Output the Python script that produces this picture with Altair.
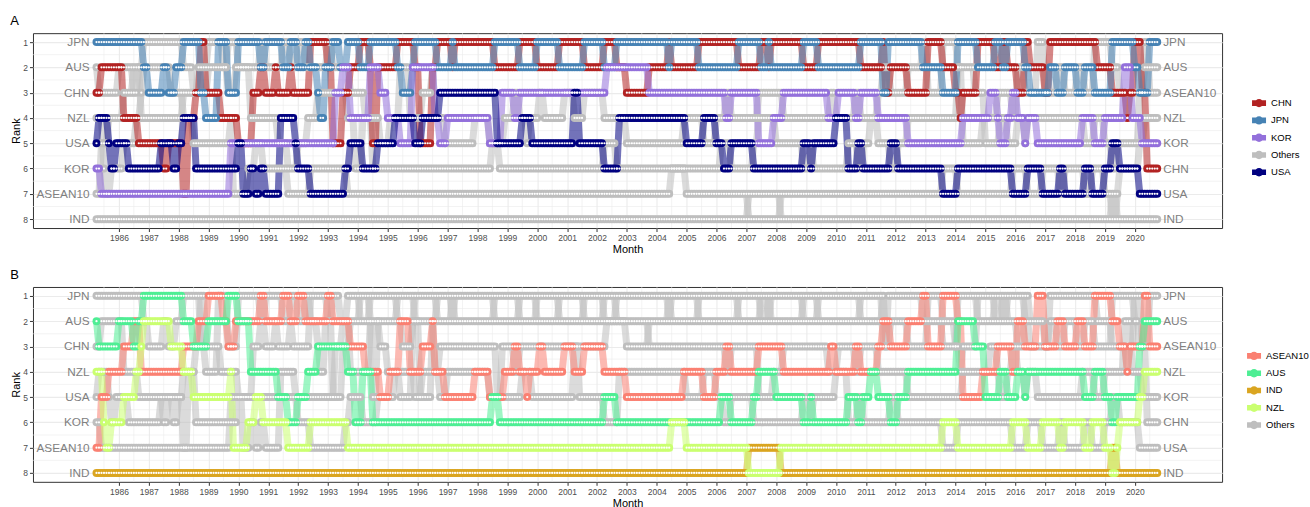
import altair as alt
import pandas as pd

# ---------------- data (change points: (decimal year, rank)) ----------------
START_YEAR, START_MONTH = 1985, 4
END_YEAR, END_MONTH = 2020, 10

JPN = [(1985.25, 1), (1986.8, 2), (1987.0, 3), (1987.5, 2), (1987.65, 3), (1987.85, 2), (1988.15, 1),
       (1988.75, 3), (1988.85, 4), (1989.3, 1), (1989.6, 3), (1989.95, 1), (1990.7, 2), (1990.9, 1),
       (1991.5, 2), (1991.75, 1), (1991.95, 2), (1992.2, 1), (1992.4, 2), (1992.6, 3), (1992.7, 4),
       (1992.9, 2), (1993.15, 1), (1993.4, 2), (1993.6, 1), (1994.05, 2), (1994.35, 1), (1995.33, 2),
       (1995.42, 3), (1995.8, 2), (1995.9, 1), (1996.6, 2), (1997.15, 1), (1997.25, 2), (1998.55, 1),
       (1999.35, 2), (2000.0, 1), (2000.7, 2), (2001.55, 1), (2002.2, 2), (2002.65, 1), (2004.35, 2),
       (2004.45, 1), (2005.35, 2), (2006.7, 1), (2007.5, 2), (2007.75, 1), (2007.8, 2), (2008.9, 1),
       (2009.4, 2), (2010.8, 1), (2011.55, 3), (2011.7, 1), (2012.85, 2), (2013.55, 3), (2014.05, 1),
       (2014.67, 2), (2015.3, 1), (2015.57, 2), (2015.73, 1), (2016.29, 2), (2016.46, 3), (2017.13, 2),
       (2017.4, 3), (2017.6, 2), (2018.08, 3), (2018.3, 2), (2018.63, 3), (2019.2, 1), (2019.98, 2),
       (2020.15, 3), (2020.45, 1)]

CHN = [(1985.25, 3), (1985.35, 2), (1986.15, 4), (1986.65, 5), (1987.45, 6), (1987.6, 5), (1988.1, 7),
       (1988.3, 4), (1988.55, 3), (1988.75, 1), (1988.9, 3), (1989.35, 4), (1990.0, 5), (1990.45, 3),
       (1990.75, 2), (1990.85, 3), (1991.2, 2), (1991.3, 3), (1991.7, 2), (1991.8, 3), (1992.4, 1),
       (1992.95, 2), (1993.15, 5), (1993.5, 3), (1993.75, 2), (1994.05, 1), (1994.35, 2), (1994.45, 5),
       (1994.6, 2), (1995.33, 1), (1995.9, 2), (1996.05, 5), (1996.5, 2), (1996.6, 1), (1997.15, 2),
       (1997.25, 1), (1998.55, 2), (1999.35, 1), (2000.0, 2), (2000.7, 1), (2001.55, 2), (2002.2, 1),
       (2002.65, 2), (2002.95, 3), (2003.7, 2), (2004.35, 1), (2004.45, 2), (2005.35, 1), (2006.7, 2),
       (2007.5, 1), (2007.75, 2), (2007.8, 1), (2008.9, 2), (2009.4, 1), (2010.8, 2), (2011.55, 1),
       (2011.65, 3), (2011.8, 2), (2012.4, 3), (2013.05, 1), (2013.55, 2), (2014.0, 3), (2014.1, 4),
       (2014.25, 3), (2014.67, 1), (2015.3, 2), (2015.57, 1), (2015.73, 2), (2016.05, 3), (2016.29, 1),
       (2016.46, 2), (2016.96, 3), (2017.13, 1), (2018.69, 2), (2019.2, 3), (2019.7, 4), (2019.8, 3),
       (2019.98, 1), (2020.2, 3), (2020.35, 6)]

KOR = [(1985.25, 6), (1985.4, 7), (1989.7, 5), (1993.2, 3), (1993.45, 2), (1993.7, 4), (1994.35, 2),
       (1994.75, 3), (1995.0, 4), (1995.4, 5), (1995.8, 2), (1996.55, 4), (1996.7, 5), (1997.0, 4),
       (1998.4, 5), (1998.8, 3), (1999.25, 4), (1999.4, 3), (2002.3, 2), (2003.7, 3), (2006.3, 4),
       (2006.45, 3), (2007.4, 5), (2007.9, 4), (2008.25, 3), (2009.75, 4), (2010.05, 3), (2010.6, 4),
       (2010.8, 3), (2011.35, 4), (2012.4, 5), (2014.2, 4), (2015.1, 3), (2015.4, 4), (2015.5, 5),
       (2015.73, 4), (2015.85, 3), (2016.05, 4), (2016.3, 5), (2016.4, 4), (2016.75, 5), (2018.2, 4),
       (2018.6, 5), (2019.0, 4), (2019.65, 2), (2019.85, 4), (2020.2, 5)]

USA = [(1985.25, 5), (1985.3, 4), (1985.6, 5), (1985.75, 6), (1985.9, 5), (1986.3, 6), (1987.35, 5),
       (1987.8, 6), (1987.95, 5), (1988.15, 4), (1988.55, 6), (1990.0, 5), (1990.1, 7), (1990.4, 6),
       (1990.55, 7), (1990.75, 6), (1990.85, 7), (1991.35, 4), (1991.85, 5), (1992.0, 6), (1992.4, 7),
       (1993.55, 6), (1993.75, 5), (1994.1, 6), (1994.6, 5), (1995.25, 4), (1995.9, 5), (1996.1, 4),
       (1996.7, 3), (1998.6, 5), (1999.45, 4), (1999.8, 5), (2001.2, 3), (2001.35, 5), (2002.2, 6),
       (2002.75, 4), (2005.0, 5), (2005.55, 4), (2006.0, 5), (2006.2, 6), (2006.45, 5), (2007.2, 6),
       (2008.9, 5), (2009.1, 6), (2009.25, 5), (2010.0, 4), (2010.35, 6), (2010.75, 5), (2010.9, 6),
       (2011.8, 5), (2012.05, 6), (2013.55, 7), (2014.05, 6), (2015.85, 7), (2016.4, 6), (2016.85, 7),
       (2017.45, 6), (2017.6, 7), (2018.3, 6), (2018.55, 7), (2019.0, 6), (2019.2, 5), (2019.5, 6),
       (2020.1, 7)]

AUS = [(1985.25, 2), (1985.3, 3), (1986.0, 2), (1986.5, 3), (1986.65, 2), (1986.8, 1), (1988.15, 2),
       (1988.5, 3), (1989.0, 2), (1989.6, 1), (1989.95, 2), (1990.4, 4), (1991.3, 5), (1991.6, 6),
       (1991.95, 5), (1992.3, 4), (1992.6, 3), (1993.6, 4), (1993.9, 6), (1994.1, 4), (1994.45, 6),
       (1998.45, 5), (1998.7, 6), (2002.2, 5), (2002.6, 6), (2006.15, 5), (2006.45, 6), (2007.2, 5),
       (2007.35, 4), (2008.0, 5), (2008.9, 6), (2009.1, 5), (2009.25, 6), (2010.35, 5), (2010.75, 6),
       (2010.9, 5), (2011.1, 4), (2011.35, 5), (2011.8, 6), (2012.05, 5), (2012.4, 4), (2014.06, 2),
       (2014.6, 3), (2015.0, 5), (2015.5, 4), (2015.73, 5), (2016.07, 4), (2016.3, 5), (2016.4, 4),
       (2018.3, 5), (2018.6, 4), (2019.0, 5), (2019.25, 6), (2019.4, 5), (2020.1, 3), (2020.3, 2)]

NZL = [(1985.25, 4), (1985.45, 6), (1985.55, 7), (1985.7, 6), (1986.15, 5), (1986.55, 4), (1986.7, 3),
       (1986.8, 2), (1987.7, 3), (1988.1, 4), (1988.5, 5), (1989.7, 4), (1989.8, 7), (1990.3, 6),
       (1990.55, 5), (1990.8, 6), (1991.6, 7), (1992.4, 6), (1993.6, 7), (2004.5, 6), (2005.0, 7),
       (2007.05, 8), (2008.1, 7), (2013.55, 6), (2014.05, 7), (2015.85, 6), (2016.4, 7), (2016.85, 6),
       (2017.45, 7), (2017.6, 6), (2018.3, 7), (2018.55, 6), (2019.0, 7), (2019.25, 8), (2019.4, 7),
       (2019.5, 6), (2020.1, 5), (2020.3, 4)]

ASEAN10 = [(1985.25, 7), (1985.4, 5), (1985.6, 4), (1986.15, 3), (1986.5, 2), (1986.7, 4), (1988.1, 3),
           (1988.6, 2), (1988.95, 1), (1989.5, 2), (1989.65, 3), (1989.9, 2), (1990.7, 1), (1990.9, 2),
           (1991.5, 1), (1991.75, 2), (1991.95, 1), (1992.2, 2), (1992.95, 1), (1993.15, 2), (1993.75, 3),
           (1994.2, 4), (1994.7, 5), (1995.05, 4), (1995.4, 2), (1995.75, 4), (1996.1, 3), (1996.5, 2),
           (1996.55, 4), (1996.9, 5), (1997.85, 4), (1998.4, 5), (1998.85, 4), (1999.25, 3), (1999.4, 4),
           (1999.6, 5), (1999.7, 4), (2000.05, 3), (2000.2, 4), (2000.85, 3), (2001.2, 4), (2001.55, 3),
           (2002.2, 4), (2002.95, 5), (2004.9, 4), (2005.55, 5), (2006.0, 4), (2006.3, 3), (2006.45, 4),
           (2007.4, 3), (2008.25, 4), (2009.8, 3), (2010.0, 4), (2010.6, 3), (2010.8, 4), (2011.35, 3),
           (2011.55, 2), (2011.8, 3), (2012.4, 2), (2012.85, 1), (2013.05, 3), (2013.55, 1), (2014.06, 2),
           (2014.2, 5), (2014.85, 4), (2015.4, 3), (2015.85, 4), (2016.07, 2), (2016.3, 3), (2016.7, 1),
           (2017.0, 3), (2017.4, 2), (2017.6, 3), (2018.08, 2), (2018.3, 3), (2018.63, 1), (2019.2, 2),
           (2019.45, 3), (2019.7, 4), (2019.8, 3), (2020.3, 1), (2020.45, 3)]

IND = [(1985.25, 8), (2007.05, 7), (2008.1, 8), (2019.25, 7), (2019.4, 8)]

SERIES = {"JPN": JPN, "AUS": AUS, "CHN": CHN, "NZL": NZL, "USA": USA,
          "KOR": KOR, "ASEAN10": ASEAN10, "IND": IND}

HIGHLIGHT_A = ["CHN", "JPN", "KOR", "USA"]
HIGHLIGHT_B = ["ASEAN10", "AUS", "IND", "NZL"]
DOMAIN_A = ["CHN", "JPN", "KOR", "Others", "USA"]
RANGE_A = ["#B22222", "#4682B4", "#9370DB", "#BEBEBE", "#000080"]
DOMAIN_B = ["ASEAN10", "AUS", "IND", "NZL", "Others"]
RANGE_B = ["#FA8072", "#4EEE94", "#DAA520", "#CAFF70", "#BEBEBE"]

YEARS = list(range(1986, 2021))
RANKS = list(range(1, 9))

# ---------------- build monthly table (run-length decoding) ----------------
months = []
y, m = START_YEAR, START_MONTH
while (y, m) <= (END_YEAR, END_MONTH):
    months.append(round(y + (m - 1) / 12.0, 5))
    m += 1
    if m > 12:
        m, y = 1, y + 1


def rank_at(changes, t):
    r = changes[0][1]
    for s, v in changes:
        if s <= t + 1e-6:
            r = v
        else:
            break
    return r


rows = []
for c, ch in SERIES.items():
    for t in months:
        rows.append({"country": c, "t": t, "rank": rank_at(ch, t),
                     "gA": c if c in HIGHLIGHT_A else "Others",
                     "gB": c if c in HIGHLIGHT_B else "Others"})
df = pd.DataFrame(rows)

t0, t1 = months[0], months[-1]
left_lab = df[df.t == t0][["country", "t", "rank"]]
right_lab = df[df.t == t1][["country", "t", "rank"]]

minor_h = pd.DataFrame({"rank": [r + 0.5 for r in RANKS[:-1]]})
minor_v = pd.DataFrame({"t": [yy - 0.5 for yy in YEARS] + [YEARS[-1] + 0.5]})

XDOM = [1983.124, 2022.92]
FONT = "Liberation Sans"
KEY = ("M-1,-0.4L1,-0.4L1,0.4L-1,0.4Z"
       "M-0.6,0A0.6,0.6 0 1 1 0.6,0A0.6,0.6 0 1 1 -0.6,0Z")


def panel(letter, gcol, dom, rng, lx, ly):
    d = df.copy()
    d["_o"] = (d[gcol] != "Others").astype(int)
    d = d.sort_values(["_o", "country", "t"])
    xsc = alt.Scale(domain=XDOM, nice=False, zero=False)
    ysc = alt.Scale(domain=[0.65, 8.35], reverse=True, nice=False, zero=False)
    X = alt.X("t:Q", scale=xsc,
              axis=alt.Axis(values=YEARS, format="d", title="Month", grid=True))
    Y = alt.Y("rank:Q", scale=ysc,
              axis=alt.Axis(values=RANKS, format="d", title="Rank", grid=True))
    cscale = alt.Scale(domain=dom, range=rng)
    leg = alt.Legend(title=None, orient="none", legendX=lx, legendY=ly,
                     symbolType=KEY, symbolSize=196, symbolStrokeWidth=0,
                     symbolOpacity=1, labelFontSize=9.5, labelFont=FONT,
                     labelColor="#000000", rowPadding=5.3, labelOffset=5,
                     padding=0)
    C = alt.Color(f"{gcol}:N", scale=cscale, legend=leg)

    gh = alt.Chart(minor_h).mark_rule(color="#EBEBEB", strokeWidth=0.6).encode(y=Y)
    gv = alt.Chart(minor_v).mark_rule(color="#EBEBEB", strokeWidth=0.6).encode(x=X)
    lines = alt.Chart(d).mark_line(strokeWidth=7, opacity=0.55).encode(
        x=X, y=Y, detail="country:N", color=C)
    pts = alt.Chart(d).mark_point(filled=True, size=64, opacity=1).encode(
        x=X, y=Y, color=C)
    whites = alt.Chart(d).mark_point(filled=True, size=5, opacity=1,
                                     color="white").encode(x=X, y=Y)
    lt = alt.Chart(left_lab).mark_text(align="right", dx=-7, fontSize=11.8,
                                       font=FONT, color="#808080").encode(
        x=X, y=Y, text="country:N")
    rt = alt.Chart(right_lab).mark_text(align="left", dx=6, fontSize=11.8,
                                        font=FONT, color="#808080").encode(
        x=X, y=Y, text="country:N")
    return alt.layer(gh, gv, lines, pts, whites, lt, rt).properties(
        width=1190, height=195,
        title=alt.TitleParams(letter, anchor="start", fontSize=13,
                              fontWeight="normal", font=FONT, color="#000000",
                              offset=0))


pA = panel("A", "gA", DOMAIN_A, RANGE_A, 1220, 63)
pB = panel("B", "gB", DOMAIN_B, RANGE_B, 1215, 62)

chart = alt.vconcat(pA, pB, spacing=13).resolve_scale(
    color="independent").resolve_legend(color="independent").properties(
    padding={"left": 9, "top": 14, "right": 0, "bottom": 0}
).configure_view(stroke="#333333", strokeWidth=1).configure_axis(
    domain=False, tickColor="#333333", tickSize=3.5, labelColor="#4D4D4D",
    labelFont=FONT, labelFontSize=8.5, titleFont=FONT, titleFontSize=11,
    titleFontWeight="normal", titleColor="#000000", gridColor="#EBEBEB",
    gridWidth=1.1, labelPadding=2, titlePadding=1.5)

chart.save("out.html", embed_options={"renderer": "svg", "actions": False})
